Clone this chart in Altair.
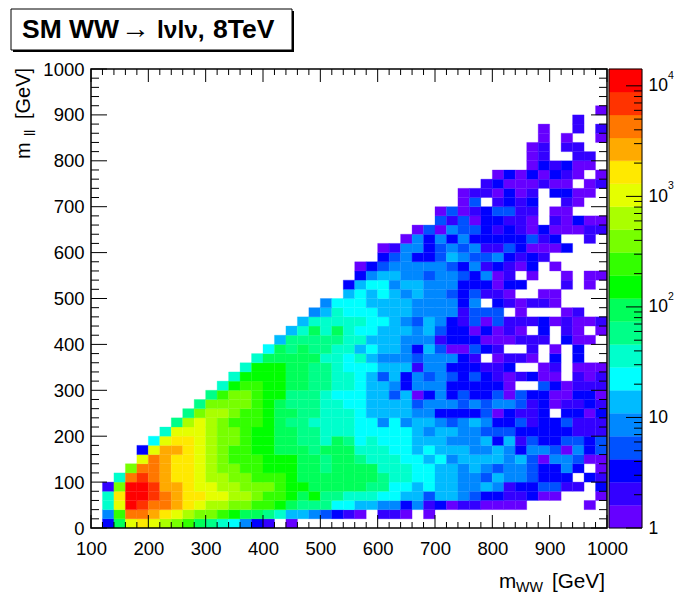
import altair as alt
import pandas as pd

FONT = "Liberation Sans"
X0, Y0 = 91, 68          # page position of the plot's corner
W, H = 516, 459
BAR_W = 33

X_EDGE_START, BIN_X, BIN_Y = 100, 20, 20

LEVELS = list("0123456789abcdefghij")
COLORS = ["#6600ff", "#3300ff", "#0000ff", "#0052ff", "#0088ff", "#00bbff", "#00ffff",
          "#00ffcc", "#00ff88", "#00ff5a", "#00ff00", "#33ff00", "#77ff00", "#aaff00",
          "#e5ff00", "#ffe900", "#ffaa00", "#ff7700", "#ff3300", "#ff0000"]
EDGES = [1, 1.61, 2.60, 4.19, 6.76, 10.9, 17.6, 28.4, 45.8, 73.8, 119, 192, 310, 500,
         806, 1300, 2100, 3380, 5450, 8790, 14200]

# each string is one row of m_ll bins, bottom first; each character is the colour level of an m_WW bin
ROWS = [
    ".29ef edcb9 87642 1.0.. ..... ..... ..... ..... .....",
    ".4bhh gfedc cba99 87554 3210. 110.0 ..... ..... .....",
    ".7eji hhgfe ddccb ba988 86655 44241 20110 000.. ...0.",
    ".7fjj ihgff eeddc bba9a 88777 66553 55432 21120 0...0",
    ".1cjj iggfe eddcc cbaa9 99998 86656 55445 41223 311.2",
    "..7hi hgffe ddccb bba99 99999 87766 55443 54432 22.21",
    "...ch hgffe dccbb aaa99 89999 77766 55454 34432 242.0",
    "....e hgffe dcbbb aaa99 89987 77665 64555 54530 44300",
    "....2 eggfe dcbba a9998 99977 76656 55544 54244 30423",
    "..... 6effe dccba a9988 79867 66655 54445 25132 23323",
    "..... .7eee dccba a9988 77766 66654 55443 33222 22111",
    "..... ..8de dcbbb a9887 77766 46455 43454 22312 23111",
    "..... ...8c ddcbb a9988 77765 55544 22223 02112 .2202",
    "..... ....8 ccccb a9888 77665 55534 44343 44312 01121",
    "..... ..... 8bccb aa888 76665 53502 42322 30322 00220",
    "..... ..... .7abb aa998 87765 54244 42222 20..3 20111",
    "..... ..... ..7aa aa998 87765 35243 43232 10120 0.101",
    "..... ..... ...7a aa998 87666 55514 42221 12..0 1.000",
    "..... ..... ....7 99999 77675 44434 4421. 0110. 2.2..",
    "..... ..... ..... 69898 87756 55425 30032 1..1. 0.2..",
    "..... ..... ..... .5888 88775 55444 12220 00111 .200.",
    "..... ..... ..... ..579 79766 55545 32202 010.2 .10.0",
    "..... ..... ..... ...57 77776 65435 42130 31112 01001",
    "..... ..... ..... ....4 57666 55544 44133 3.0.. .01..",
    "..... ..... ..... ..... 46665 55544 4424. 21011 0....",
    "..... ..... ..... ..... ..565 65454 43231 10..0 0....",
    "..... ..... ..... ..... ..256 64554 44222 022.. .1.0.",
    "..... ..... ..... ..... ...24 55443 44324 01.0. .0.00",
    "..... ..... ..... ..... ...02 34444 43241 2102. 0....",
    "..... ..... ..... ..... ..... 23422 35433 42121 .....",
    "..... ..... ..... ..... ..... 01442 34341 13200 02...",
    "..... ..... ..... ..... ..... ..042 42422 22231 2..1.",
    "..... ..... ..... ..... ..... ...03 04332 12102 00011",
    "..... ..... ..... ..... ..... ..... 31302 2110. 10200",
    "..... ..... ..... ..... ..... ..... 03012 3311. 00...",
    "..... ..... ..... ..... ..... ..... ..03. 1212. .10..",
    "..... ..... ..... ..... ..... ..... ..011 0201. 2200.",
    "..... ..... ..... ..... ..... ..... ....1 20001 00.01",
    "..... ..... ..... ..... ..... ..... ..... 02020 210.0",
    "..... ..... ..... ..... ..... ..... ..... ...02 1200.",
    "..... ..... ..... ..... ..... ..... ..... ...01 ..11.",
    "..... ..... ..... ..... ..... ..... ..... ...01 .11..",
    "..... ..... ..... ..... ..... ..... ..... ....0 .0..0",
    "..... ..... ..... ..... ..... ..... ..... ....0 ..1.1",
    "..... ..... ..... ..... ..... ..... ..... ..... ..1..",
    "..... ..... ..... ..... ..... ..... ..... ..... ....0",
]

X_MAJOR = list(range(100, 1001, 100))
X_MINOR = [v for v in range(100, 1001, 20) if v % 100]
Y_MAJOR = list(range(0, 1001, 100))
Y_MINOR = [v for v in range(0, 1001, 20) if v % 100]
Z_MAJOR = [1, 10, 100, 1000, 10000]
Z_MINOR = [m * d for d in (1, 10, 100, 1000) for m in range(2, 10)]

cells = []
for r, row in enumerate(ROWS):
    for c, ch in enumerate(row.replace(" ", "")):
        if ch != ".":
            cells.append({"x0": X_EDGE_START + c * BIN_X, "x1": X_EDGE_START + (c + 1) * BIN_X,
                          "y0": r * BIN_Y, "y1": (r + 1) * BIN_Y, "level": ch})
cells = pd.DataFrame(cells)

xs = alt.Scale(domain=[100, 1000], nice=False, zero=False)
ys = alt.Scale(domain=[0, 1000], nice=False, zero=False)
zs = alt.Scale(type="log", domain=[1, 14200], nice=False)
cs = alt.Scale(domain=LEVELS, range=COLORS)

axis_style = dict(ticks=False, domain=False, grid=False, title=None, labelFont=FONT,
                  labelColor="black", labelOverlap=False,
                  labelFlush=False, labelBound=False)
x_axis = alt.Axis(values=X_MAJOR, labelPadding=11, format="d", labelFontSize=18.5, **axis_style)
y_axis = alt.Axis(values=Y_MAJOR, labelPadding=7, format="d", labelFontSize=18.5, **axis_style)
z_axis = alt.Axis(orient="right", values=Z_MAJOR, labelPadding=6, labelFontSize=17.5,
                  labelExpr="datum.value < 5 ? '1' : '10'", **axis_style)

main = alt.Chart(cells).mark_rect(strokeWidth=0.3).encode(
    x=alt.X("x0:Q", scale=xs, axis=x_axis),
    x2="x1:Q",
    y=alt.Y("y0:Q", scale=ys, axis=y_axis),
    y2="y1:Q",
    color=alt.Color("level:N", scale=cs, legend=None),
    stroke=alt.Stroke("level:N", scale=cs, legend=None),
)


def xticks(vals, y1, y2):
    return alt.Chart(pd.DataFrame({"v": vals})).mark_rule(color="black", strokeWidth=1).encode(
        x=alt.X("v:Q", scale=xs, axis=x_axis), y=alt.value(y1), y2=alt.value(y2))


def yticks(vals, x1, x2):
    return alt.Chart(pd.DataFrame({"v": vals})).mark_rule(color="black", strokeWidth=1).encode(
        y=alt.Y("v:Q", scale=ys, axis=y_axis), x=alt.value(x1), x2=alt.value(x2))


def ztick(vals, length):
    return alt.Chart(pd.DataFrame({"v": vals})).mark_rule(color="black", strokeWidth=1).encode(
        y=alt.Y("v:Q", scale=zs, axis=z_axis), x=alt.value(BAR_W), x2=alt.value(BAR_W - length))


def one():
    return pd.DataFrame({"t": [""]})


def box(x1, x2, y1, y2, **kw):
    return alt.Chart(one()).mark_rect(**kw).encode(
        x=alt.value(x1 - X0), x2=alt.value(x2 - X0), y=alt.value(y1 - Y0), y2=alt.value(y2 - Y0))


def txt(s, px, py, size, **kw):
    return alt.Chart(pd.DataFrame({"t": [s]})).mark_text(
        font=FONT, fontSize=size, align="left", baseline="alphabetic", color="black", **kw
    ).encode(text="t:N", x=alt.value(px - X0), y=alt.value(py - Y0))


frame = alt.Chart(one()).mark_rect(filled=False, stroke="black", strokeWidth=1.5).encode(
    x=alt.value(0), x2=alt.value(W), y=alt.value(0), y2=alt.value(H))

left = alt.layer(
    main,
    xticks(X_MAJOR, H, H - 13), xticks(X_MINOR, H, H - 6),
    xticks(X_MAJOR, 0, 13), xticks(X_MINOR, 0, 6),
    yticks(Y_MAJOR, 0, 16), yticks(Y_MINOR, 0, 8),
    yticks(Y_MAJOR, W, W - 16), yticks(Y_MINOR, W, W - 8),
    frame,
    box(13, 294, 10, 51, fill="black"),
    box(11, 292, 8, 49, fill="white", stroke="black", strokeWidth=1),
    txt("SM WW", 22, 37, 26.5, fontWeight="bold"),
    txt("\u2192", 121, 37, 29),
    txt("l\u03bdl\u03bd,", 157, 37, 24.5, fontWeight="bold"),
    txt("8TeV", 213, 37, 26.5, fontWeight="bold"),
    txt("m", 499, 587, 20.7),
    txt("WW", 516, 591, 14.3),
    txt("[GeV]", 552, 587, 20.7),
    txt("m", 30, 158, 20, angle=270),
    txt("ll", 35, 135, 14, angle=270),
    txt("[GeV]", 30, 118, 20, angle=270),
).properties(width=W, height=H)

bar_df = pd.DataFrame({"lo": EDGES[:-1], "hi": EDGES[1:], "level": LEVELS})
bar = alt.Chart(bar_df).mark_rect(strokeWidth=0.3).encode(
    x=alt.value(0), x2=alt.value(BAR_W),
    y=alt.Y("lo:Q", scale=zs, axis=z_axis),
    y2="hi:Q",
    color=alt.Color("level:N", scale=cs, legend=None),
    stroke=alt.Stroke("level:N", scale=cs, legend=None),
)
sup = alt.Chart(pd.DataFrame({"v": [100, 1000, 10000], "s": ["2", "3", "4"]})).mark_text(
    font=FONT, fontSize=10.5, align="left", baseline="middle", color="black", dy=-10
).encode(y=alt.Y("v:Q", scale=zs, axis=z_axis), x=alt.value(BAR_W + 26), text="s:N")
bar_frame = alt.Chart(one()).mark_rect(filled=False, stroke="black", strokeWidth=1).encode(
    x=alt.value(0), x2=alt.value(BAR_W), y=alt.value(0), y2=alt.value(H))
right = alt.layer(bar, ztick(Z_MAJOR, 16), ztick(Z_MINOR, 8), sup, bar_frame).properties(width=BAR_W, height=H)

chart = alt.hconcat(left, right, spacing=2, bounds="flush").properties(
    padding={"left": 2, "top": 0, "right": 0, "bottom": -2}, background="white"
).configure_view(stroke=None)

chart.save("out.html", embed_options={"renderer": "svg", "actions": False})
